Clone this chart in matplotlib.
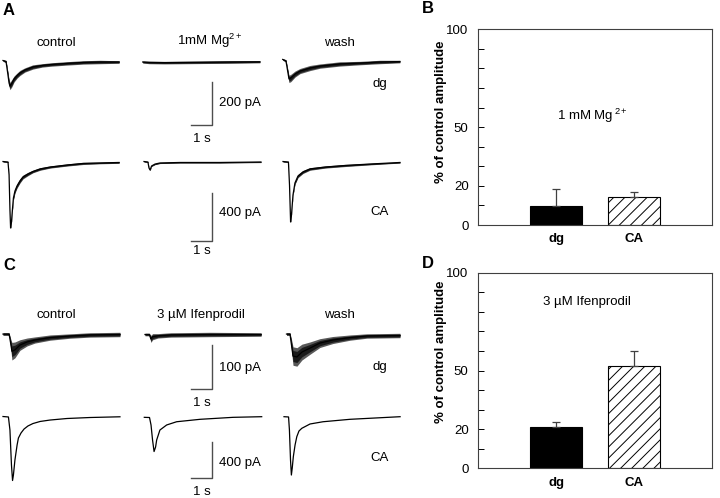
import numpy as np
import matplotlib.pyplot as plt

plt.rcParams['font.family'] = ['Liberation Sans', 'DejaVu Sans']
plt.rcParams['mathtext.fontset'] = 'custom'
plt.rcParams['mathtext.rm'] = 'Liberation Sans'
plt.rcParams['mathtext.it'] = 'Liberation Sans:italic'
plt.rcParams['mathtext.bf'] = 'Liberation Sans:bold'
plt.rcParams['hatch.linewidth'] = 0.7

# ---- traces (time in s, current in pA, noise half-width in pA) ----
# panel A, dentate gyrus
a_dg_ctl_t = [0, 0.14, 0.21, 0.28, 0.32, 0.41, 0.51, 0.65, 0.78, 1.01, 1.38, 1.80, 2.17, 2.86, 3.69, 4.47, 5.35]
a_dg_ctl_i = [7, 2, -47, -98, -112, -98, -79, -63, -51, -37, -23, -16, -12, -7, -2, 0, 0]
a_dg_ctl_n = [4, 6, 12, 17, 17, 17, 14, 12, 12, 10, 10, 8, 8, 8, 8, 8, 6]
a_dg_mg_t = [0, 0.3, 1.0, 2.0, 3.0, 4.0, 5.4]
a_dg_mg_i = [0, -2, -3, -2, -1, 0, 1]
a_dg_mg_n = [5, 6, 6, 6, 6, 6, 5]
a_dg_wash_t = [0, 0.15, 0.22, 0.29, 0.38, 0.57, 0.80, 1.26, 1.72, 2.64, 3.56, 4.48, 5.40]
a_dg_wash_i = [12, 5, -37, -79, -74, -56, -42, -28, -19, -9, -5, 0, 2]
a_dg_wash_n = [4, 6, 12, 17, 17, 14, 12, 12, 10, 10, 8, 8, 6]
# panel A, CA
a_ca_ctl_t = [0, 0.23, 0.28, 0.32, 0.35, 0.39, 0.44, 0.48, 0.55, 0.645, 0.78, 0.92, 1.15, 1.38, 1.71, 2.17, 2.95, 3.69, 4.47, 5.35]
a_ca_ctl_i = [4, 0, -108, -400, -550, -500, -383, -300, -242, -200, -158, -125, -100, -79, -58, -42, -25, -12, -8, -4]
a_ca_ctl_n = [4, 4, 4, 4, 4, 8, 14, 18, 18, 18, 18, 16, 14, 11, 11, 9, 9, 9, 7, 7]
a_ca_mg_t = [0, 0.18, 0.23, 0.28, 0.35, 0.51, 0.74, 1.66, 3.50, 5.39]
a_ca_mg_i = [4, 0, -50, -67, -33, -17, -8, -4, -4, 0]
a_ca_mg_n = [4, 4, 4, 4, 4, 5, 5, 5, 5, 5]
a_ca_wash_t = [0, 0.25, 0.30, 0.35, 0.39, 0.46, 0.55, 0.69, 0.92, 1.24, 1.94, 2.86, 4.01, 5.39]
a_ca_wash_i = [4, 0, -192, -500, -442, -275, -175, -117, -83, -58, -42, -29, -17, -4]
a_ca_wash_n = [4, 4, 4, 4, 6, 9, 12, 14, 13, 11, 9, 9, 7, 5]
# panel C, dentate gyrus
c_dg_ctl_t = [0, 0.28, 0.35, 0.41, 0.55, 0.78, 1.11, 1.47, 2.17, 3.09, 4.01, 5.39]
c_dg_ctl_i = [1, 1, -19, -38, -35, -24, -17, -12.5, -7, -3.5, -1, 0]
c_dg_ctl_n = [3, 3, 10, 20, 18, 12, 9, 7, 6, 5, 5, 5]
c_dg_ifen_t = [0, 0.2, 0.27, 0.35, 0.6, 1.2, 3.0, 5.35]
c_dg_ifen_i = [0, 0, -10, -5, -3, -1, 0, 0]
c_dg_ifen_n = [3, 3, 8, 7, 5, 5, 5, 4]
c_dg_wash_t = [0, 0.16, 0.23, 0.30, 0.48, 0.71, 1.08, 1.54, 2.14, 2.93, 3.71, 5.23]
c_dg_wash_i = [1, 1, -24, -49, -51, -40, -31, -19.5, -12.5, -7, -3.4, -2.3]
c_dg_wash_n = [3, 3, 13, 21, 21, 18, 14, 10, 8, 6, 5, 5]
# panel C, CA
c_ca_ctl_t = [0, 0.25, 0.32, 0.39, 0.44, 0.48, 0.55, 0.65, 0.71, 0.83, 0.97, 1.15, 1.38, 1.71, 2.17, 2.95, 4.01, 5.39]
c_ca_ctl_i = [2, -3, -148, -537, -709, -648, -481, -314, -237, -181, -137, -103, -76, -53, -37, -20, -9, -1]
c_ca_ifen_t = [0, 0.24, 0.31, 0.38, 0.45, 0.52, 0.57, 0.72, 1.03, 1.49, 2.57, 4.09, 5.41]
c_ca_ifen_i = [-7, -9, -92, -259, -387, -337, -259, -148, -92, -56, -29, -7, 0]
c_ca_wash_t = [0, 0.21, 0.25, 0.30, 0.34, 0.38, 0.43, 0.51, 0.59, 0.69, 0.82, 1.20, 1.80, 3.04, 5.35]
c_ca_wash_i = [0, -3, -148, -481, -648, -570, -444, -314, -222, -159, -129, -81, -56, -29, 0]

# ---- bar data (% of control amplitude) ----
groups = ['dg', 'CA']
mg_mean = [9.7, 14.3]
mg_sem = [8.5, 2.4]
ifen_mean = [21.1, 52.1]
ifen_sem = [2.7, 7.9]

W, H = 720, 498
PX_S = 21.7  # pixels per second on the traces
fig = plt.figure(figsize=(W / 100, H / 100), dpi=100)


def ftext(x, y, s, **kw):
    fig.text(x / W, 1 - y / H, s, **kw)


def row_axes(top, bottom, base, px_pa):
    ax = fig.add_axes([0, 1 - bottom / H, 410 / W, (bottom - top) / H])
    ax.set_xlim(0, 410 / PX_S)
    ax.set_ylim((base - bottom) / px_pa, (base - top) / px_pa)
    ax.axis('off')
    return ax


def trace(ax, x0, t, i, n=None, lw=0.9):
    t = np.array(t) + x0 / PX_S
    i = np.array(i, dtype=float)
    if n is not None:
        n = np.array(n, dtype=float)
        ax.fill_between(t, i - n, i + n, color='0.35', lw=0)
        ax.fill_between(t, i - 0.6 * n, i + 0.6 * n, color='0.1', lw=0)
    ax.plot(t, i, color='k', lw=lw, solid_joinstyle='round')


def scalebar(ax, bottom, size, label, label_y, s_y):
    xr = 212.3 / PX_S
    ax.plot([xr - 1, xr, xr], [bottom, bottom, bottom + size], color='0.3', lw=1.0,
            clip_on=False)
    ftext(219, label_y, label, fontsize=9.5, va='baseline')
    ftext(201.5, s_y, '1 s', fontsize=9.5, va='baseline', ha='center')


fs = 9.5

# row A dg
ax = row_axes(50, 150, 62, 0.215)
trace(ax, 3, a_dg_ctl_t, a_dg_ctl_i, a_dg_ctl_n)
trace(ax, 142.7, a_dg_mg_t, a_dg_mg_i, a_dg_mg_n)
trace(ax, 282.7, a_dg_wash_t, a_dg_wash_i, a_dg_wash_n)
scalebar(ax, -293, 200, '200 pA', 105.7, 142.3)

# row A CA
ax = row_axes(150, 262, 162, 0.12)
trace(ax, 3, a_ca_ctl_t, a_ca_ctl_i, a_ca_ctl_n)
trace(ax, 144, a_ca_mg_t, a_ca_mg_i, a_ca_mg_n)
trace(ax, 283, a_ca_wash_t, a_ca_wash_i, a_ca_wash_n)
scalebar(ax, -658, 400, '400 pA', 215.7, 254)

# row C dg
ax = row_axes(320, 410, 334.5, 0.44)
trace(ax, 3, c_dg_ctl_t, c_dg_ctl_i, c_dg_ctl_n)
trace(ax, 145, c_dg_ifen_t, c_dg_ifen_i, c_dg_ifen_n)
trace(ax, 286.5, c_dg_wash_t, c_dg_wash_i, c_dg_wash_n)
scalebar(ax, -124.5, 100, '100 pA', 370.7, 405.7)

# row C CA
ax = row_axes(405, 498, 416.7, 0.09)
trace(ax, 3, c_ca_ctl_t, c_ca_ctl_i)
trace(ax, 144.3, c_ca_ifen_t, c_ca_ifen_i)
trace(ax, 284, c_ca_wash_t, c_ca_wash_i)
scalebar(ax, -681, 400, '400 pA', 465.7, 495)

# headers and labels
ftext(56, 45.5, 'control', fontsize=fs, ha='center', va='baseline')
ftext(210, 45.5, r'1mM Mg$^{2+}$', fontsize=fs, ha='center', va='baseline')
ftext(339, 45.5, 'wash', fontsize=fs, ha='center', va='baseline')
ftext(56, 318, 'control', fontsize=fs, ha='center', va='baseline')
ftext(201, 318, '3 \u00b5M Ifenprodil', fontsize=fs, ha='center', va='baseline')
ftext(339, 318, 'wash', fontsize=fs, ha='center', va='baseline')
ftext(380, 87, 'dg', fontsize=fs, ha='center', va='baseline')
ftext(380, 215, 'CA', fontsize=fs, ha='center', va='baseline')
ftext(380, 370, 'dg', fontsize=fs, ha='center', va='baseline')
ftext(380, 460.7, 'CA', fontsize=fs, ha='center', va='baseline')

ftext(2.7, 15, 'A', fontsize=12, fontweight='bold', va='baseline')
ftext(421.7, 13.3, 'B', fontsize=12, fontweight='bold', va='baseline')
ftext(3.3, 270, 'C', fontsize=12, fontweight='bold', va='baseline')
ftext(421.7, 268.3, 'D', fontsize=12, fontweight='bold', va='baseline')


def bar_panel(top, bottom, means, sems, note, note_xy, label_y):
    ax = fig.add_axes([478.3 / W, 1 - bottom / H, (711.7 - 478.3) / W, (bottom - top) / H])
    x = np.arange(1, len(groups) + 1)
    ax.bar(x[0], means[0], width=0.667, color='k', edgecolor='k', lw=0.8)
    ax.bar(x[1], means[1], width=0.667, color='white', edgecolor='k', lw=0.8, hatch='///')
    ax.errorbar(x, means, yerr=[np.zeros(len(x)), sems], fmt='none', ecolor='0.25',
                elinewidth=0.9, capsize=3, capthick=0.9)
    ax.set_xlim(0, 3)
    ax.set_ylim(0, 100)
    ax.set_yticks([0, 20, 50, 100])
    ax.set_yticks([10, 30, 40, 60, 70, 80, 90], minor=True)
    ax.tick_params(axis='y', which='both', direction='in', length=4, width=0.7,
                   labelsize=fs, pad=7)
    ax.set_xticks(x)
    ax.set_xticklabels(groups, fontweight='bold', fontsize=fs)
    ax.tick_params(axis='x', length=0, pad=6)
    ax.set_ylabel('% of control amplitude', fontweight='bold', fontsize=fs)
    ax.yaxis.set_label_coords(-0.134, label_y)
    for sp in ax.spines.values():
        sp.set_linewidth(0.8)
        sp.set_color('0.25')
    ax.text(note_xy[0], note_xy[1], note, fontsize=fs, ha='center', va='center')
    return ax


bar_panel(29.3, 225, mg_mean, mg_sem, r'1 mM Mg$\,^{2+}$', (1.47, 56), 0.58)
bar_panel(272.7, 468.3, ifen_mean, ifen_sem, '3 \u00b5M Ifenprodil', (1.39, 85), 0.596)

fig.savefig('out.png', dpi=100)
